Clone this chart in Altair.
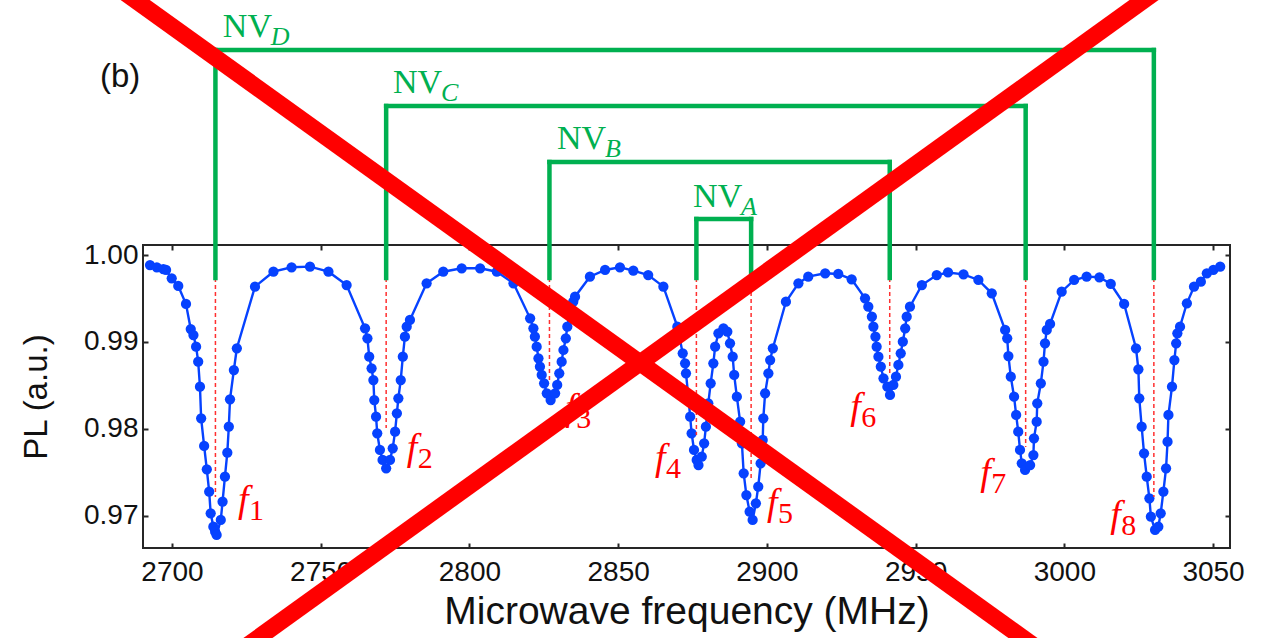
import altair as alt
import pandas as pd

# ---------------- data ----------------
freq = [2692.6, 2694.9, 2697.1, 2698.0, 2699.9, 2702.1, 2704.7, 2706.3, 2707.2, 2708.1,
        2708.8, 2709.4, 2709.8, 2710.8, 2711.7, 2712.5, 2713.0, 2713.9, 2714.5, 2715.0,
        2716.4, 2717.0, 2717.8, 2718.6, 2719.1, 2719.5, 2720.8, 2721.8, 2727.9, 2734.1,
        2740.2, 2746.4, 2752.6, 2758.7, 2764.9, 2765.7, 2766.3, 2767.1, 2767.7, 2768.0,
        2768.6, 2769.0, 2769.9, 2770.8, 2772.0, 2773.3, 2774.2, 2775.0, 2775.6, 2776.1,
        2776.9, 2777.6, 2778.3, 2778.9, 2780.0, 2785.6, 2791.2, 2797.4, 2803.6, 2809.2,
        2814.8, 2820.4, 2821.5, 2822.0, 2822.6, 2823.2, 2823.7, 2824.3, 2825.1, 2826.0,
        2827.3, 2828.8, 2829.5, 2830.2, 2831.0, 2831.6, 2832.4, 2832.9, 2833.6, 2834.9,
        2835.5, 2840.5, 2845.6, 2850.6, 2855.1, 2860.1, 2865.2, 2869.9, 2871.7, 2872.5,
        2872.8, 2873.6, 2874.2, 2874.7, 2875.5, 2876.4, 2877.0, 2878.1, 2878.9, 2879.5,
        2880.3, 2881.1, 2882.0, 2882.6, 2883.7, 2885.4, 2886.7, 2887.6, 2888.5, 2889.0,
        2889.9, 2891.0, 2891.6, 2892.2, 2893.1, 2894.2, 2895.2, 2896.3, 2897.1, 2897.9,
        2898.6, 2898.8, 2899.4, 2900.5, 2901.1, 2902.0, 2906.4, 2910.6, 2913.9, 2919.6,
        2924.0, 2928.5, 2933.0, 2934.1, 2935.3, 2935.8, 2936.5, 2936.9, 2937.5, 2938.3,
        2939.2, 2940.5, 2941.4, 2942.5, 2943.4, 2944.2, 2945.0, 2945.7, 2946.5, 2947.0,
        2948.1, 2952.1, 2957.1, 2960.9, 2966.1, 2971.1, 2975.6, 2980.1, 2980.8, 2981.2,
        2982.0, 2983.1, 2983.8, 2984.5, 2985.1, 2985.7, 2986.8, 2988.5, 2989.6, 2989.8,
        2990.7, 2990.9, 2992.1, 2993.0, 2993.5, 2994.1, 2995.2, 2999.1, 3003.3, 3007.5,
        3011.8, 3015.6, 3020.1, 3024.1, 3024.9, 3025.2, 3026.0, 3026.8, 3027.7, 3028.6,
        3029.1, 3030.5, 3031.6, 3032.4, 3033.3, 3034.2, 3034.7, 3035.0, 3036.2, 3037.0,
        3037.6, 3038.0, 3038.9, 3041.2, 3043.6, 3045.9, 3047.9, 3050.1, 3052.4]

pl = [0.99885, 0.99859, 0.99839, 0.99828, 0.99732, 0.99644, 0.99437, 0.99149, 0.99080, 0.98946,
      0.98774, 0.98486, 0.98123, 0.97805, 0.97537, 0.97279, 0.97031, 0.96877, 0.96820, 0.96782,
      0.96954, 0.97164, 0.97452, 0.97728, 0.98026, 0.98341, 0.98678, 0.98928, 0.99636, 0.99808,
      0.99859, 0.99866, 0.99808, 0.99655, 0.99157, 0.99043, 0.98831, 0.98698, 0.98563, 0.98333,
      0.98141, 0.97951, 0.97759, 0.97644, 0.97548, 0.97644, 0.97778, 0.97969, 0.98180, 0.98353,
      0.98563, 0.98831, 0.99061, 0.99176, 0.99253, 0.99675, 0.99808, 0.99847, 0.99847, 0.99808,
      0.99675, 0.99272, 0.99157, 0.99061, 0.98946, 0.98813, 0.98716, 0.98621, 0.98525, 0.98410,
      0.98333, 0.98410, 0.98506, 0.98640, 0.98774, 0.98908, 0.99043, 0.99176, 0.99310, 0.99463,
      0.99521, 0.99751, 0.99828, 0.99859, 0.99820, 0.99770, 0.99636, 0.99176, 0.98870, 0.98755,
      0.98640, 0.98371, 0.98141, 0.97951, 0.97759, 0.97644, 0.97586, 0.97682, 0.97836, 0.98026,
      0.98295, 0.98525, 0.98755, 0.98946, 0.99100, 0.99157, 0.99118, 0.98985, 0.98831, 0.98621,
      0.98371, 0.98084, 0.97836, 0.97491, 0.97241, 0.97050, 0.96954, 0.97146, 0.97337, 0.97606,
      0.97874, 0.98123, 0.98410, 0.98640, 0.98793, 0.98928, 0.99463, 0.99675, 0.99751, 0.99790,
      0.99782, 0.99721, 0.99502, 0.99406, 0.99291, 0.99176, 0.99061, 0.98946, 0.98831, 0.98716,
      0.98583, 0.98486, 0.98391, 0.98506, 0.98601, 0.98736, 0.98870, 0.99003, 0.99157, 0.99291,
      0.99406, 0.99655, 0.99770, 0.99799, 0.99778, 0.99713, 0.99560, 0.99138, 0.99043, 0.98839,
      0.98601, 0.98371, 0.98161, 0.97969, 0.97759, 0.97606, 0.97529, 0.97586, 0.97701, 0.97893,
      0.98084, 0.98295, 0.98525, 0.98774, 0.98985, 0.99138, 0.99207, 0.99578, 0.99713, 0.99751,
      0.99744, 0.99667, 0.99437, 0.98928, 0.98686, 0.98353, 0.98026, 0.97720, 0.97452, 0.97203,
      0.96992, 0.96839, 0.96877, 0.97031, 0.97279, 0.97548, 0.97854, 0.98161, 0.98486, 0.98793,
      0.98985, 0.99100, 0.99176, 0.99445, 0.99636, 0.99693, 0.99790, 0.99828, 0.99866]

x_ticks = [2700, 2750, 2800, 2850, 2900, 2950, 3000, 3050]
y_ticks = [0.97, 0.98, 0.99, 1.00]

# resonance markers f1..f8
res_freq = [2714.6, 2772.0, 2826.9, 2876.3, 2894.7, 2941.3, 2987.0, 3030.1]
dash_top = 0.99736
dash_bottom = [0.97218, 0.98011, 0.98529, 0.97931, 0.97437, 0.98644, 0.97793, 0.97218]
f_subs = ["1", "2", "3", "4", "5", "6", "7", "8"]
f_label_x = [2722.2, 2778.9, 2832.2, 2862.4, 2900.0, 2928.0, 2971.7, 3015.4]
f_label_y = [0.97046, 0.97640, 0.98100, 0.97525, 0.97008, 0.98118, 0.97353, 0.96874]

# NV brackets
nv_names = ["A", "B", "C", "D"]
nv_left = [2876.3, 2826.9, 2772.0, 2714.6]
nv_right = [2894.7, 2941.3, 2987.0, 3030.1]
nv_level = [1.004138, 1.010690, 1.017126, 1.023563]
nv_label_x = [2875.2, 2829.4, 2774.3, 2717.1]
nv_label_y = [1.00552, 1.01218, 1.01862, 1.02506]

panel_text = ["(b)"]
panel_x = [2675.8]
panel_y = [1.01931]

# big red cross (in data units)
cross_x1 = [2672.7, 3041.7]
cross_y1 = [1.03298, 1.03298]
cross_x2 = [3001.0, 2714.0]
cross_y2 = [0.95231, 0.95231]

# ---------------- tables ----------------
df = pd.DataFrame({"f": freq, "pl": pl})
df_dash = pd.DataFrame({"f": res_freq, "top": [dash_top] * len(res_freq), "bottom": dash_bottom})
df_flab = pd.DataFrame({"f": f_label_x, "pl": f_label_y, "main": ["f"] * 8, "sub": f_subs})
df_bar = pd.DataFrame({"left": nv_left, "right": nv_right, "level": nv_level})
df_vert = pd.DataFrame({
    "f": nv_left + nv_right,
    "level": nv_level + nv_level,
    "end": [dash_top] * 8,
})
df_nv = pd.DataFrame({"f": nv_label_x, "pl": nv_label_y, "main": ["NV"] * 4, "sub": nv_names})
df_panel = pd.DataFrame({"f": panel_x, "pl": panel_y, "t": panel_text})
df_cross = pd.DataFrame({"x1": cross_x1, "y1": cross_y1, "x2": cross_x2, "y2": cross_y2})

BLUE = "#0642FF"
GREEN = "#00B050"
RED = "#FF0000"
AXC = "#262626"

xs = alt.Scale(domain=[2690.25, 3055.7], nice=False, zero=False)
ys = alt.Scale(domain=[0.96632, 1.00115], nice=False, zero=False)

common_axis = dict(tickSize=5, tickWidth=2, tickColor=AXC, domain=False, offset=-5, grid=False)

line = alt.Chart(df).mark_line(color=BLUE, strokeWidth=2.4).encode(
    x=alt.X("f:Q", scale=xs, axis=alt.Axis(
        orient="bottom", values=x_ticks, format="d", title="Microwave frequency (MHz)",
        labelFont="Liberation Sans", labelFontSize=28, labelColor="#111111", labelPadding=10,
        titleFont="Liberation Sans", titleFontSize=39, titleFontWeight="normal",
        titleColor="#111111", titlePadding=6, **common_axis)),
    y=alt.Y("pl:Q", scale=ys, axis=alt.Axis(
        orient="left", values=y_ticks, format=".2f", title="PL (a.u.)",
        labelFont="Liberation Sans", labelFontSize=28, labelColor="#111111", labelPadding=5,
        titleFont="Liberation Sans", titleFontSize=33, titleFontWeight="normal",
        titleColor="#111111", titlePadding=30, **common_axis)),
)

points = alt.Chart(df).mark_circle(color=BLUE, size=105, opacity=1).encode(
    x=alt.X("f:Q", scale=xs, axis=alt.Axis(orient="top", values=x_ticks, labels=False, title="", **common_axis)),
    y=alt.Y("pl:Q", scale=ys, axis=alt.Axis(orient="right", values=y_ticks, labels=False, title="", **common_axis)),
)

dashes = alt.Chart(df_dash).mark_rule(color="#FF3030", strokeWidth=1.5, strokeDash=[4, 3]).encode(
    x=alt.X("f:Q", scale=xs, axis=None),
    y=alt.Y("top:Q", scale=ys, axis=None),
    y2="bottom:Q",
)

bars = alt.Chart(df_bar).mark_rule(color=GREEN, strokeWidth=4.5, strokeCap="square").encode(
    x=alt.X("left:Q", scale=xs, axis=None),
    x2="right:Q",
    y=alt.Y("level:Q", scale=ys, axis=None),
)

verts = alt.Chart(df_vert).mark_rule(color=GREEN, strokeWidth=4.5, strokeCap="square").encode(
    x=alt.X("f:Q", scale=xs, axis=None),
    y=alt.Y("level:Q", scale=ys, axis=None),
    y2="end:Q",
)

f_main = alt.Chart(df_flab).mark_text(
    align="left", baseline="alphabetic", font="Liberation Serif", fontStyle="italic",
    fontSize=38, color=RED).encode(
    x=alt.X("f:Q", scale=xs, axis=None), y=alt.Y("pl:Q", scale=ys, axis=None), text="main:N")

f_sub = alt.Chart(df_flab).mark_text(
    align="left", baseline="alphabetic", font="Liberation Serif",
    fontSize=30, color=RED, dx=11, dy=8).encode(
    x=alt.X("f:Q", scale=xs, axis=None), y=alt.Y("pl:Q", scale=ys, axis=None), text="sub:N")

nv_main = alt.Chart(df_nv).mark_text(
    align="left", baseline="alphabetic", font="Liberation Serif",
    fontSize=34, color=GREEN).encode(
    x=alt.X("f:Q", scale=xs, axis=None), y=alt.Y("pl:Q", scale=ys, axis=None), text="main:N")

nv_sub = alt.Chart(df_nv).mark_text(
    align="left", baseline="alphabetic", font="Liberation Serif", fontStyle="italic",
    fontSize=26, color=GREEN, dx=48, dy=8).encode(
    x=alt.X("f:Q", scale=xs, axis=None), y=alt.Y("pl:Q", scale=ys, axis=None), text="sub:N")

panel = alt.Chart(df_panel).mark_text(
    align="left", baseline="alphabetic", font="Liberation Sans",
    fontSize=33, color="#111111").encode(
    x=alt.X("f:Q", scale=xs, axis=None), y=alt.Y("pl:Q", scale=ys, axis=None), text="t:N")

cross = alt.Chart(df_cross).mark_rule(color=RED, strokeWidth=17, strokeCap="butt").encode(
    x=alt.X("x1:Q", scale=xs, axis=None),
    y=alt.Y("y1:Q", scale=ys, axis=None),
    x2="x2:Q",
    y2="y2:Q",
)

chart = alt.layer(
    line, points, dashes, bars, verts, f_main, f_sub, nv_main, nv_sub, panel, cross
).properties(
    width=1087,
    height=303,
    autosize=alt.AutoSizeParams(type="none"),
    padding={"left": 143, "top": 245, "right": 38, "bottom": 90},
    background="white",
).configure_view(
    stroke=AXC, strokeWidth=2
)

chart.save("out.html", embed_options={"renderer": "svg", "actions": False})
